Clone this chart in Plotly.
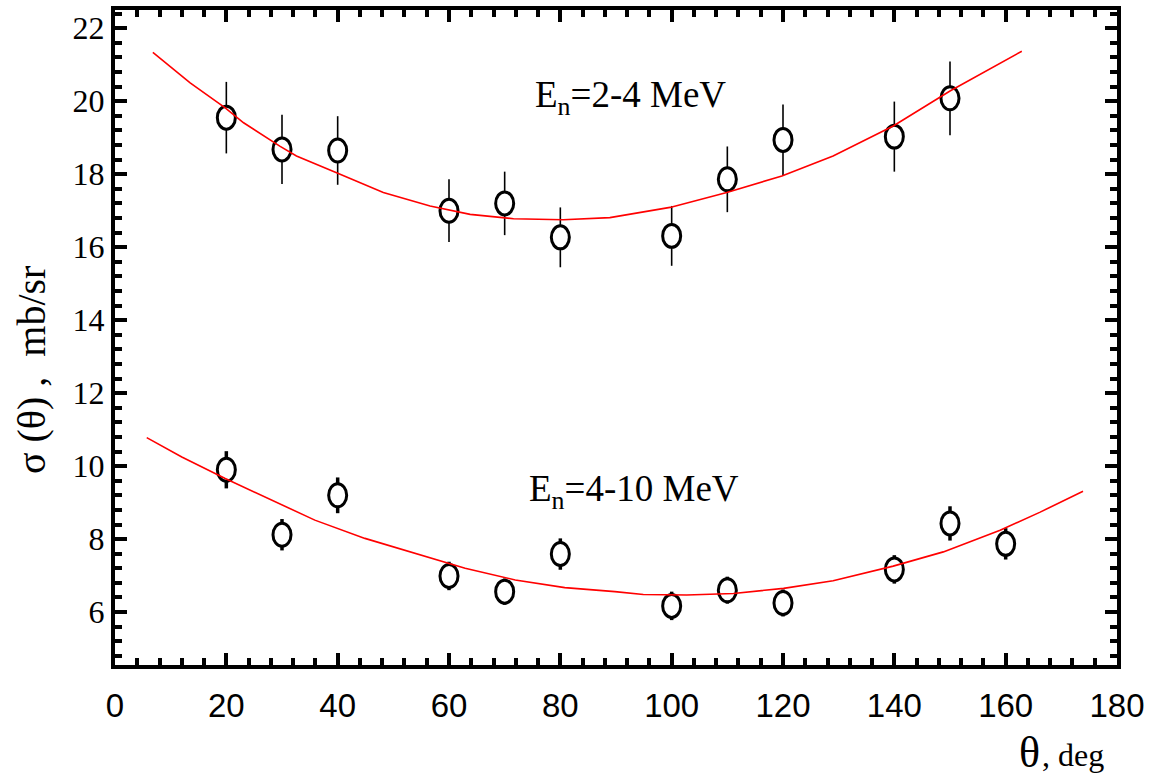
import plotly.graph_objects as go

# Angular distributions, E_n = 2-4 MeV
theta_a = [20, 30, 40, 60, 70, 80, 100, 110, 120, 140, 150]
sigma_a = [19.55, 18.68, 18.65, 17.00, 17.20, 16.27, 16.31, 17.86, 18.94, 19.03, 20.08]
err_a = [0.98, 0.95, 0.94, 0.86, 0.87, 0.82, 0.82, 0.90, 0.97, 0.96, 1.01]

# Angular distributions, E_n = 4-10 MeV
theta_b = [20, 30, 40, 60, 70, 80, 100, 110, 120, 140, 150, 160]
sigma_b = [9.90, 8.12, 9.20, 6.99, 6.56, 7.59, 6.17, 6.60, 6.25, 7.17, 8.43, 7.87]
err_b = [0.51, 0.43, 0.49, 0.39, 0.36, 0.43, 0.39, 0.37, 0.37, 0.39, 0.47, 0.43]

# Fitted curves
fit_a_theta = [6.8, 13.5, 19.8, 23.1, 29.6, 32.6, 39.8, 48.2, 56.6, 63.8, 71.6, 80.5,
               88.9, 99.7, 109.9, 119.8, 129.0, 139.8, 150.0, 162.9]
fit_a = [21.34, 20.50, 19.82, 19.41, 18.77, 18.50, 18.04, 17.50, 17.13, 16.90, 16.78, 16.75,
         16.81, 17.09, 17.50, 17.95, 18.50, 19.32, 20.28, 21.37]
fit_b_theta = [5.7, 12.0, 19.8, 28.2, 35.9, 44.9, 53.9, 62.9, 71.9, 80.8, 89.8, 94.9,
               102.7, 111.1, 120.1, 129.0, 139.8, 148.8, 159.0, 166.2, 173.9]
fit_b = [10.78, 10.25, 9.66, 9.06, 8.52, 8.02, 7.61, 7.20, 6.88, 6.67, 6.56, 6.48,
         6.47, 6.51, 6.65, 6.86, 7.26, 7.65, 8.24, 8.74, 9.31]

x_ticks = list(range(0, 181, 20))
y_ticks = list(range(6, 23, 2))

# ellipse half-sizes (data units) for the open markers
HX, HY = 1.62, 0.315

fig = go.Figure()
shapes = []


def add_points(xs, ys, es, bar_width):
    # error bars first, then white-filled ellipses on top of them
    for x, y, e in zip(xs, ys, es):
        shapes.append(dict(type="line", xref="x", yref="y", x0=x, x1=x, y0=y - e, y1=y + e,
                           line=dict(color="black", width=bar_width), layer="between"))
    for x, y in zip(xs, ys):
        shapes.append(dict(type="circle", xref="x", yref="y",
                           x0=x - HX, x1=x + HX, y0=y - HY, y1=y + HY,
                           fillcolor="white", line=dict(color="black", width=3),
                           layer="between"))


add_points(theta_a, sigma_a, err_a, 1.6)
add_points(theta_b, sigma_b, err_b, 3.5)

fig.add_trace(go.Scatter(x=fit_a_theta, y=fit_a, mode="lines",
                         line=dict(color="#ff0000", width=1.6), showlegend=False))
fig.add_trace(go.Scatter(x=fit_b_theta, y=fit_b, mode="lines",
                         line=dict(color="#ff0000", width=1.6), showlegend=False))
# hoverable point positions
fig.add_trace(go.Scatter(x=theta_a, y=sigma_a, mode="markers", marker=dict(size=1, opacity=0),
                         showlegend=False))
fig.add_trace(go.Scatter(x=theta_b, y=sigma_b, mode="markers", marker=dict(size=1, opacity=0),
                         showlegend=False))

fig.update_layout(shapes=shapes)

serif = "Liberation Serif, Times New Roman, serif"
sans = "Liberation Sans, Arial, sans-serif"

fig.update_xaxes(range=[0, 180], tickvals=x_ticks, showline=True, linewidth=4, linecolor="black",
                 mirror="ticks", ticks="inside", ticklen=12, tickwidth=4, tickcolor="black",
                 showgrid=False, zeroline=False, ticklabelstandoff=8,
                 tickfont=dict(family=sans, size=33, color="black"),
                 minor=dict(ticks="inside", ticklen=7, tickwidth=4, dtick=4, tick0=0,
                            tickcolor="black", showgrid=False))
fig.update_yaxes(range=[4.55, 22.5], tickvals=y_ticks, showline=True, linewidth=4, linecolor="black",
                 mirror="ticks", ticks="inside", ticklen=12, tickwidth=4, tickcolor="black",
                 showgrid=False, zeroline=False,
                 tickfont=dict(family=serif, size=32, color="black"),
                 minor=dict(ticks="inside", ticklen=7, tickwidth=4, dtick=0.4, tick0=0,
                            tickcolor="black", showgrid=False))

fig.add_annotation(x=75.1, y=20.1, xref="x", yref="y", xanchor="left", yanchor="middle",
                   text="E<sub>n</sub>=2-4 MeV", showarrow=False,
                   font=dict(family=serif, size=37, color="black"))
fig.add_annotation(x=74.0, y=9.3, xref="x", yref="y", xanchor="left", yanchor="middle",
                   text="E<sub>n</sub>=4-10 MeV", showarrow=False,
                   font=dict(family=serif, size=37, color="black"))

# x-axis title: large theta followed by the unit
fig.add_annotation(x=0.925, y=-0.133, xref="paper", yref="paper", xanchor="right", yanchor="middle",
                   text="θ", showarrow=False,
                   font=dict(family=serif, size=44, color="black"))
fig.add_annotation(x=0.923, y=-0.138, xref="paper", yref="paper", xanchor="left", yanchor="middle",
                   text=", deg", showarrow=False,
                   font=dict(family=serif, size=32, color="black"))
fig.add_annotation(x=-0.084, y=0.45, xref="paper", yref="paper", xanchor="center", yanchor="middle",
                   text="σ (θ) ,  mb/sr", textangle=-90, showarrow=False,
                   font=dict(family=serif, size=40, color="black"))

fig.update_layout(width=1157, height=776, margin=dict(l=115, r=40, t=6, b=111),
                  paper_bgcolor="white", plot_bgcolor="white", showlegend=False)

fig.write_html("out.html")
